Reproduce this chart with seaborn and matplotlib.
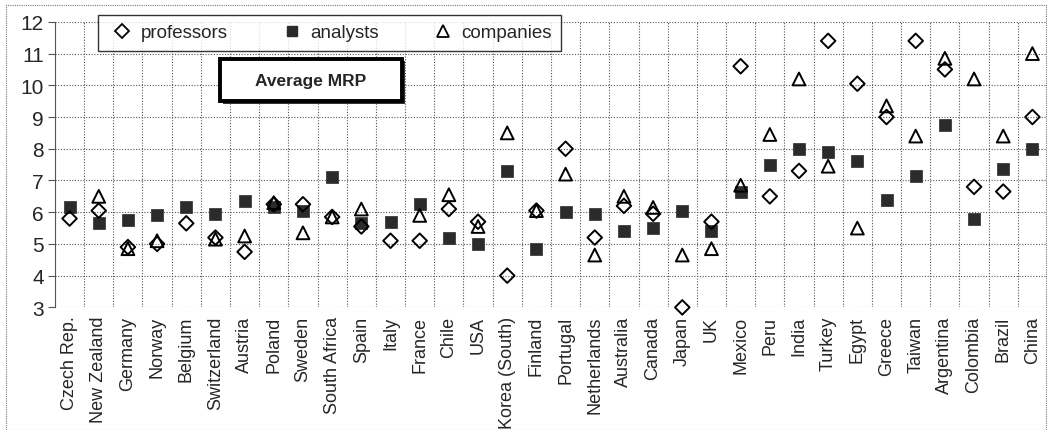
import numpy as np
import pandas as pd
import matplotlib
matplotlib.use('Agg')
import matplotlib.pyplot as plt
import seaborn as sns
from matplotlib.patches import Rectangle
from matplotlib.lines import Line2D

# --- data ---
countries = ['Czech Rep.', 'New Zealand', 'Germany', 'Norway', 'Belgium', 'Switzerland',
             'Austria', 'Poland', 'Sweden', 'South Africa', 'Spain', 'Italy', 'France',
             'Chile', 'USA', 'Korea (South)', 'Finland', 'Portugal', 'Netherlands',
             'Australia', 'Canada', 'Japan', 'UK', 'Mexico', 'Peru', 'India', 'Turkey',
             'Egypt', 'Greece', 'Taiwan', 'Argentina', 'Colombia', 'Brazil', 'China']
professors = [5.8, 6.05, 4.9, 5.0, 5.65, 5.2, 4.75, 6.25, 6.25, 5.85, 5.55, 5.1, 5.1,
              6.1, 5.7, 4.0, 6.05, 8.0, 5.2, 6.2, 5.95, 3.0, 5.7, 10.6, 6.5, 7.3, 11.4,
              10.05, 9.0, 11.4, 10.5, 6.8, 6.65, 9.0]
analysts = [6.15, 5.65, 5.75, 5.9, 6.15, 5.95, 6.35, 6.15, 6.05, 7.1, 5.65, 5.7, 6.25,
            5.2, 5.0, 7.3, 4.85, 6.0, 5.95, 5.4, 5.5, 6.05, 5.4, 6.65, 7.5, 8.0, 7.9,
            7.6, 6.4, 7.15, 8.75, 5.8, 7.35, 8.0]
companies = [np.nan, 6.5, 4.85, 5.1, np.nan, 5.15, 5.25, 6.3, 5.35, 5.85, 6.1, np.nan,
             5.9, 6.55, 5.55, 8.5, 6.05, 7.2, 4.65, 6.5, 6.15, 4.65, 4.85, 6.85, 8.45,
             10.2, 7.45, 5.5, 9.35, 8.4, 10.85, 10.2, 8.4, 11.0]

df = pd.DataFrame({'pos': np.arange(len(countries)), 'country': countries,
                   'professors': professors, 'analysts': analysts,
                   'companies': companies})

sns.set_style('white')
plt.rcParams['font.family'] = ['Liberation Sans', 'DejaVu Sans']

fig = plt.figure(figsize=(10.47, 4.31), dpi=100)
ax = fig.add_axes([0.0525, 0.2845, 0.9475, 0.6625])

grid_kw = dict(color='#555555', linestyle=(0, (1, 1.5)), linewidth=0.8)

sns.scatterplot(data=df, x='pos', y='analysts', marker='s', s=70, color='#2b2b2b',
                edgecolor='#2b2b2b', linewidth=0.5, ax=ax, zorder=3)
sns.scatterplot(data=df, x='pos', y='companies', marker='^', s=85, facecolors='none',
                edgecolor='black', linewidth=1.4, ax=ax, zorder=4)
sns.scatterplot(data=df, x='pos', y='professors', marker='D', s=55, facecolors='none',
                edgecolor='black', linewidth=1.4, ax=ax, zorder=5, clip_on=False)

ax.set_xlim(-0.5, len(countries) - 0.5)
ax.set_ylim(3, 12)
ax.set_yticks(range(3, 13))
ax.set_xticks(df['pos'])
ax.set_xticklabels(countries, rotation=90, fontsize=13)
ax.set_xticks(np.arange(len(countries) + 1) - 0.5, minor=True)
ax.tick_params(axis='x', which='major', length=0, pad=6)
ax.tick_params(axis='x', which='minor', length=5, color='#555555')
ax.tick_params(axis='y', labelsize=15, length=5, color='#555555', left=True, pad=3)
ax.set_xlabel('')
ax.set_ylabel('')

for y in range(3, 13):
    ax.axhline(y, zorder=1, **grid_kw)
for x in np.arange(len(countries) + 1) - 0.5:
    ax.axvline(x, zorder=1, **grid_kw)
for side in ['top', 'right', 'bottom']:
    ax.spines[side].set_visible(False)
ax.spines['left'].set_color('#555555')
ax.spines['left'].set_linewidth(0.8)

# legend box
handles = [
    Line2D([], [], marker='D', ls='', markersize=7, mfc='none', mec='black', mew=1.3),
    Line2D([], [], marker='s', ls='', markersize=7, mfc='#2b2b2b', mec='#2b2b2b'),
    Line2D([], [], marker='^', ls='', markersize=8, mfc='none', mec='black', mew=1.3),
]
leg = fig.legend(handles, ['professors', 'analysts', 'companies'], ncol=3,
                 loc='center', bbox_to_anchor=(0.3147, 0.922), fontsize=13.5,
                 frameon=True, fancybox=False, edgecolor='black', handletextpad=0.2,
                 columnspacing=2.6, borderpad=0.5, borderaxespad=0, handlelength=1.6)
leg.get_frame().set_linewidth(1.0)
leg.set_zorder(10)

# "Average MRP" box with shadow
fig.patches.append(Rectangle((0.213, 0.757), 0.174, 0.098, transform=fig.transFigure,
                             facecolor='#333333', edgecolor='none', zorder=8))
fig.patches.append(Rectangle((0.210, 0.763), 0.174, 0.098, transform=fig.transFigure,
                             facecolor='white', edgecolor='black', linewidth=2.8, zorder=9))
fig.text(0.297, 0.812, 'Average MRP', ha='center', va='center', fontsize=12.5,
         fontweight='bold', zorder=11)

# outer chart border
fig.patches.append(Rectangle((0.006, 0.0), 0.993, 0.985, transform=fig.transFigure,
                             facecolor='none', edgecolor='#777777', linewidth=0.8,
                             linestyle=(0, (1, 1)), zorder=0))

fig.savefig('out.png', dpi=100)
